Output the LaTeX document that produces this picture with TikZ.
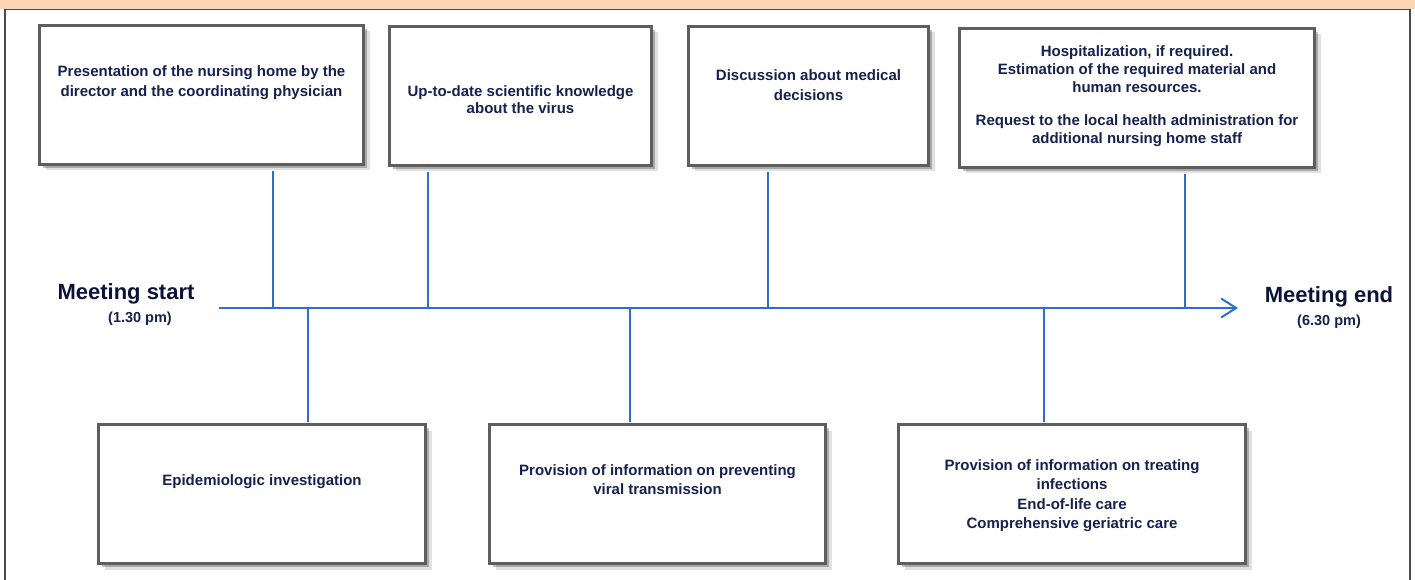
\documentclass[tikz,border=0pt]{standalone}
\usepackage{xcolor}
\usepackage{fontspec}
\setmainfont{Liberation Sans}
\usepackage{tikz}
\usetikzlibrary{arrows.meta,positioning,shadows}

\definecolor{navy}{HTML}{15214F}
\definecolor{darknavy}{HTML}{0B1438}
\definecolor{lineblue}{HTML}{2F6FC4}
\definecolor{boxgray}{HTML}{5E5E5E}
\definecolor{peach}{HTML}{FAD4B6}
\definecolor{framegray}{HTML}{4A4A4A}

% box contents: width, gap above text, line spacing, text
\newcommand{\boxtext}[4]{\parbox[c][139pt][t]{#1}{\centering\fontsize{15}{#3}\selectfont\vspace*{#2}#4\par}}

\begin{document}
\begin{tikzpicture}
    [
    x=1pt, y=-1pt,
    box/.style = {draw=boxgray, line width=3pt, fill=white, inner sep=0pt, text=navy, font=\bfseries,
                  drop shadow={shadow xshift=6pt, shadow yshift=-6pt, fill=black, opacity=0.12},
                  drop shadow={shadow xshift=3.5pt, shadow yshift=-3.5pt, fill=black, opacity=0.25}},
    branch/.style = {draw=lineblue, line width=2pt},
    timeline/.style = {branch, -{Straight Barb[length=15pt, width=19pt]}},
    meet/.style = {inner sep=0pt, text=darknavy, font=\bfseries\fontsize{22}{26}\selectfont},
    hour/.style = {inner sep=0pt, text=navy, font=\bfseries\fontsize{14.5}{17}\selectfont}
    ]

    \useasboundingbox (0,0) rectangle (1415,580);

% Frame
    \fill[peach] (0,0) rectangle (1415,9);
    \draw[framegray, line width=1.2pt] (5,590) -- (5,9.6) -- (1410,9.6) -- (1410,590);

% Nodes
    \node[box] (pres) at (201.5,95) {\boxtext{324pt}{40pt}{20pt}{Presentation of the nursing home by the\\director and the coordinating physician}};
    \node[box] (virus) at (520.5,96) {\boxtext{262pt}{59pt}{17pt}{Up-to-date scientific knowledge\\about the virus}};
    \node[box] (medic) at (808.5,96) {\boxtext{240pt}{43pt}{20pt}{Discussion about medical\\decisions}};
    \node[box] (hosp) at (1137,98) {\boxtext{355pt}{17pt}{18pt}{Hospitalization, if required.\\Estimation of the required material and\\human resources.\\[15pt]Request to the local health administration for\\additional nursing home staff}};
    \node[box] (epid) at (262,494) {\boxtext{327pt}{50pt}{19pt}{Epidemiologic investigation}};
    \node[box] (prev) at (657.5,494) {\boxtext{336pt}{40pt}{19pt}{Provision of information on preventing\\viral transmission}};
    \node[box] (treat) at (1072,494) {\boxtext{347pt}{35pt}{19.5pt}{Provision of information on treating\\infections\\End-of-life care\\Comprehensive geriatric care}};

    \coordinate (tstart) at (219,308);
    \coordinate (tend) at (1238,308);
    \coordinate (k1) at (273,308);
    \coordinate (k2) at (428,308);
    \coordinate (k3) at (768,308);
    \coordinate (k4) at (1185,308);
    \coordinate (k5) at (308,308);
    \coordinate (k6) at (630,308);
    \coordinate (k7) at (1044,308);

% Arrows
    \draw[timeline] (tstart) -- (tend);
    \draw[branch, shorten <=5pt] (pres.south -| k1) -- (k1);
    \draw[branch, shorten <=5pt] (virus.south -| k2) -- (k2);
    \draw[branch, shorten <=5pt] (medic.south -| k3) -- (k3);
    \draw[branch, shorten <=5pt] (hosp.south -| k4) -- (k4);
    \draw[branch, shorten <=1pt] (epid.north -| k5) -- (k5);
    \draw[branch, shorten <=1pt] (prev.north -| k6) -- (k6);
    \draw[branch, shorten <=1pt] (treat.north -| k7) -- (k7);

% Labels
    \node[meet, anchor=base] (start) at (126,299) {Meeting start};
    \node[hour, below=8pt of start, xshift=14pt] (starthour) {(1.30 pm)};
    \node[meet, anchor=base] (meetend) at (1329,302) {Meeting end};
    \node[hour, below=8pt of meetend] (endhour) {(6.30 pm)};

\end{tikzpicture}
\end{document}
